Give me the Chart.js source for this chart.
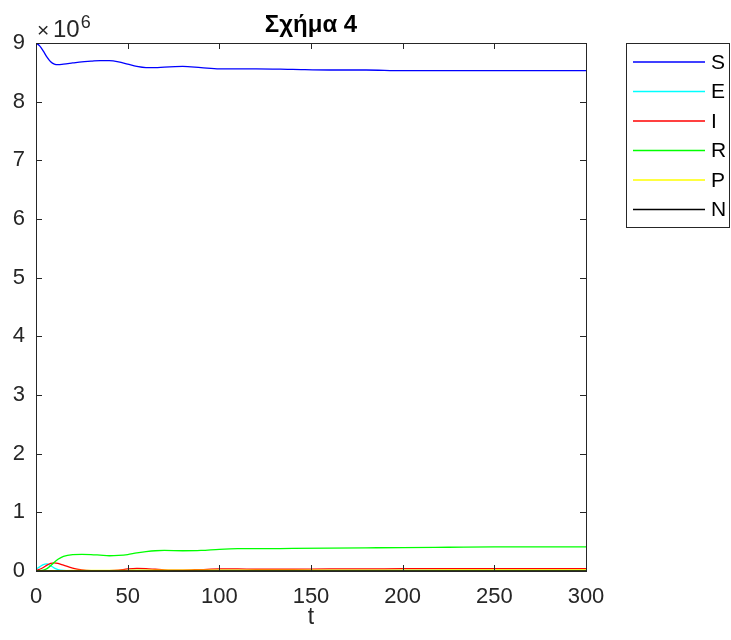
<!DOCTYPE html>
<html>
<head>
<meta charset="utf-8">
<script src="https://cdn.jsdelivr.net/npm/chart.js@4.4.1/dist/chart.umd.min.js"></script>
<style>
html, body { margin: 0; padding: 0; background: #fff; }
</style>
</head>
<body>
<canvas id="myChart" width="731" height="640"></canvas>
<script>
// time points (days)
const t = [0, 2, 4, 6, 8, 10, 12, 15, 20, 25, 30, 35, 40, 45, 50, 55, 60, 65, 70, 80, 90, 100, 110, 120, 140, 160, 180, 200, 225, 250, 275, 300];

// series values, in units of 10^6
const S = [9.00, 8.95, 8.86, 8.76, 8.68, 8.64, 8.63, 8.64, 8.66, 8.68, 8.69, 8.70, 8.70, 8.68, 8.64, 8.60, 8.58, 8.58, 8.59, 8.60, 8.58, 8.56, 8.56, 8.56, 8.55, 8.54, 8.54, 8.53, 8.53, 8.53, 8.53, 8.53];
const E = [0.03, 0.07, 0.11, 0.12, 0.09, 0.05, 0.025, 0.01, 0.005, 0.004, 0.004, 0.004, 0.005, 0.007, 0.009, 0.010, 0.009, 0.008, 0.007, 0.007, 0.008, 0.009, 0.009, 0.009, 0.009, 0.009, 0.009, 0.009, 0.009, 0.009, 0.009, 0.009];
const I = [0.01, 0.03, 0.06, 0.10, 0.13, 0.14, 0.13, 0.10, 0.05, 0.02, 0.005, 0.002, 0.005, 0.015, 0.035, 0.045, 0.04, 0.03, 0.02, 0.015, 0.025, 0.035, 0.035, 0.03, 0.03, 0.035, 0.035, 0.04, 0.04, 0.04, 0.04, 0.04];
const R = [0.00, 0.005, 0.015, 0.04, 0.09, 0.15, 0.20, 0.25, 0.28, 0.285, 0.28, 0.27, 0.26, 0.265, 0.28, 0.31, 0.33, 0.345, 0.35, 0.345, 0.35, 0.37, 0.38, 0.38, 0.385, 0.39, 0.395, 0.40, 0.405, 0.41, 0.41, 0.41];
const P = [0.00, 0.001, 0.002, 0.003, 0.004, 0.005, 0.006, 0.008, 0.010, 0.011, 0.012, 0.012, 0.012, 0.012, 0.012, 0.013, 0.013, 0.013, 0.013, 0.014, 0.014, 0.015, 0.015, 0.015, 0.015, 0.016, 0.016, 0.016, 0.017, 0.017, 0.017, 0.017];
const N = [0, 0, 0, 0, 0, 0, 0, 0, 0, 0, 0, 0, 0, 0, 0, 0, 0, 0, 0, 0, 0, 0, 0, 0, 0, 0, 0, 0, 0, 0, 0, 0];

const seriesNames = ['S', 'E', 'I', 'R', 'P', 'N'];
const seriesValues = [S, E, I, R, P, N];
const seriesColors = ['#0000ff', '#00ffff', '#ff0000', '#00ff00', '#ffff00', '#000000'];

const xTicks = [0, 50, 100, 150, 200, 250, 300];
const yTicks = [0, 1, 2, 3, 4, 5, 6, 7, 8, 9];

const titleText = 'Σχήμα 4';
const xLabel = 't';

const axisColor = '#262626';

// box, inward ticks, exponent, title and legend (matlab look)
const matlabFrame = {
    id: 'matlabFrame',
    afterDatasetsDraw(chart) {
        const ctx = chart.ctx;
        const a = chart.chartArea;
        const xs = chart.scales.x, ys = chart.scales.y;
        ctx.save();
        ctx.strokeStyle = axisColor;
        ctx.lineWidth = 1;
        ctx.strokeRect(a.left + 0.5, a.top + 0.5, a.right - a.left, a.bottom - a.top);
        ctx.beginPath();
        xTicks.forEach(v => {
            const px = Math.round(xs.getPixelForValue(v)) + 0.5;
            ctx.moveTo(px, a.bottom); ctx.lineTo(px, a.bottom - 6);
            ctx.moveTo(px, a.top); ctx.lineTo(px, a.top + 6);
        });
        yTicks.forEach(v => {
            const py = Math.round(ys.getPixelForValue(v)) + 0.5;
            ctx.moveTo(a.left, py); ctx.lineTo(a.left + 6, py);
            ctx.moveTo(a.right, py); ctx.lineTo(a.right - 6, py);
        });
        ctx.stroke();

        // x10^6
        ctx.fillStyle = axisColor;
        ctx.textBaseline = 'alphabetic';
        ctx.textAlign = 'left';
        ctx.font = '21px Arial';
        ctx.fillText('\u00d7', a.left + 1, a.top - 6);
        ctx.font = '24px Arial';
        ctx.fillText('10', a.left + 17, a.top - 6);
        const w = ctx.measureText('10').width;
        ctx.font = '18px Arial';
        ctx.fillText('6', a.left + 18 + w, a.top - 15);

        // title
        ctx.fillStyle = '#000';
        ctx.font = 'bold 24px Arial';
        ctx.textAlign = 'center';
        ctx.fillText(titleText, (a.left + a.right) / 2, 32);

        // legend
        ctx.strokeStyle = axisColor;
        ctx.fillStyle = '#fff';
        ctx.fillRect(626, 43, 104, 184);
        ctx.strokeRect(626.5, 43.5, 103, 184);
        ctx.font = '21px Arial';
        ctx.textAlign = 'left';
        ctx.textBaseline = 'middle';
        chart.data.datasets.forEach((ds, i) => {
            const yy = 62 + i * 29.5;
            ctx.strokeStyle = ds.borderColor;
            ctx.lineWidth = 1.3;
            ctx.beginPath();
            ctx.moveTo(633, yy); ctx.lineTo(705, yy);
            ctx.stroke();
            ctx.fillStyle = '#000';
            ctx.fillText(ds.label, 711, yy + 1);
        });
        ctx.restore();
    }
};

const datasets = seriesNames.map((name, i) => ({
    label: name,
    data: t.map((tt, k) => ({ x: tt, y: seriesValues[i][k] })),
    borderColor: seriesColors[i],
    borderWidth: 1.3,
    pointRadius: 0,
    fill: false,
    cubicInterpolationMode: 'monotone',
    order: seriesNames.length - i
}));

const ctx = document.getElementById('myChart').getContext('2d');
const myChart = new Chart(ctx, {
    type: 'line',
    data: { datasets: datasets },
    options: {
        responsive: false,
        animation: false,
        devicePixelRatio: 1,
        layout: { padding: { left: 0, top: 43, right: 145, bottom: 0 } },
        plugins: {
            legend: { display: false },
            tooltip: { enabled: false },
            title: { display: false }
        },
        scales: {
            x: {
                type: 'linear',
                min: 0,
                max: 300,
                afterBuildTicks: s => { s.ticks = xTicks.map(v => ({ value: v })); },
                afterFit: s => { s.height = 69; },
                grid: { display: false, drawTicks: false },
                border: { display: false },
                ticks: { color: axisColor, font: { family: 'Arial', size: 22 }, padding: 13, maxRotation: 0 },
                title: { display: true, text: xLabel, color: axisColor, font: { family: 'Arial', size: 23 }, padding: { top: 0, bottom: 9 } }
            },
            y: {
                type: 'linear',
                min: 0,
                max: 9,
                afterBuildTicks: s => { s.ticks = yTicks.map(v => ({ value: v })); },
                afterFit: s => { s.width = 36; },
                grid: { display: false, drawTicks: false },
                border: { display: false },
                ticks: { color: axisColor, font: { family: 'Arial', size: 22 }, padding: 11 }
            }
        }
    },
    plugins: [matlabFrame]
});
</script>
</body>
</html>
